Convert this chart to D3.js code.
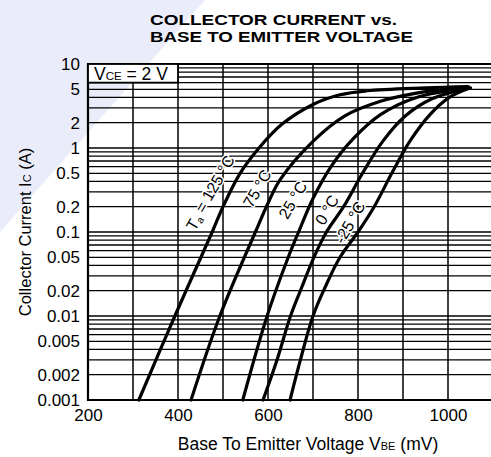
<!DOCTYPE html>
<html>
<head>
<meta charset="utf-8">
<script src="https://cdn.jsdelivr.net/npm/d3@7"></script>
<style>
  body { margin: 0; background: #fff; }
  text { font-family: "Liberation Sans", Arial, sans-serif; fill: #000; }
</style>
</head>
<body>
<div id="chart"></div>
<script>
// IC vs VBE, VCE = 2 V
const width = 491;
const height = 457;

// curves: [VBE in mV, IC in A]
const curve125 = [[313,0.001],[393,0.01],[476,0.1],[500,0.2],[538,0.5],[580,1],[630,1.9],[700,3.3],[760,4.3],[820,4.8],[950,5.2],[1045,5.4]];
const curve75  = [[429,0.001],[493,0.01],[572,0.1],[600,0.22],[627,0.42],[700,1.2],[770,2.4],[850,3.6],[930,4.5],[1045,5.3]];
const curve25  = [[544,0.001],[598,0.01],[645,0.05],[668,0.1],[700,0.25],[740,0.6],[790,1.3],[850,2.5],[930,4.0],[1045,5.2]];
const curve0   = [[589,0.001],[620,0.003],[650,0.01],[675,0.022],[702,0.05],[730,0.1],[768,0.2],[810,0.5],[855,1.2],[905,2.4],[962,3.8],[1045,5.2]];
const curveM25 = [[649,0.001],[672,0.003],[700,0.01],[727,0.022],[760,0.05],[800,0.1],[836,0.2],[875,0.5],[915,1.2],[960,2.5],[1003,4.0],[1050,5.2]];

const curves = [curve125, curve75, curve25, curve0, curveM25];
const tempNames = ["125", "75", "25", "0", "-25"];
// where each temperature label sits, [mV, A]
const labelAt = [[473,0.29],[576,0.33],[655,0.24],[731,0.183],[782,0.13]];

const xTicks = [200, 400, 600, 800, 1000];
const xGrid = [300, 400, 500, 600, 700, 800, 900, 1000];
const yTicks = [10, 5, 2, 1, 0.5, 0.2, 0.1, 0.05, 0.02, 0.01, 0.005, 0.002, 0.001];

const svg = d3.select("#chart")
              .append("svg")
              .attr("width", width)
              .attr("height", height);

// faint watermark in the corner
svg.append("path")
   .attr("d", "M0,0 L205,0 L0,232 Z")
   .attr("fill", "#eaedf9");

const x = d3.scaleLinear().domain([200, 1100]).range([88, 493]);
const y = d3.scaleLog().domain([0.001, 10]).range([400, 64]);

// grid
let yGrid = [];
for (let e = -3; e <= 0; e++) {
  for (let m = 1; m <= 9; m++) yGrid.push(m * Math.pow(10, e));
}
yGrid.push(10);

svg.append("g")
   .selectAll("line")
   .data(yGrid)
   .join("line")
   .attr("x1", x(200)).attr("x2", x(1100))
   .attr("y1", d => y(d)).attr("y2", d => y(d))
   .attr("stroke", "#000")
   .attr("stroke-width", 1.3);

svg.append("g")
   .selectAll("line")
   .data(xGrid)
   .join("line")
   .attr("x1", d => x(d)).attr("x2", d => x(d))
   .attr("y1", y(10)).attr("y2", y(0.001))
   .attr("stroke", "#000")
   .attr("stroke-width", 1.5);

// frame
svg.append("path")
   .attr("d", `M${x(1100)},${y(10)} H${x(200)} V${y(0.001)} H${x(1100)}`)
   .attr("fill", "none")
   .attr("stroke", "#000")
   .attr("stroke-width", 2.2);

// VCE box
const box = svg.append("g");
box.append("rect")
   .attr("x", x(200)).attr("y", y(10))
   .attr("width", x(400) - x(200)).attr("height", y(6) - y(10))
   .attr("fill", "#fff")
   .attr("stroke", "#000")
   .attr("stroke-width", 1.8);
const vce = box.append("text")
   .attr("x", x(200) + 6).attr("y", y(6) - 3)
   .attr("font-size", 17.5);
vce.append("tspan").text("V");
vce.append("tspan").attr("font-size", 11.5).text("CE");
vce.append("tspan").text(" = 2 V");

// curves
const line = d3.line()
               .x(d => x(d[0]))
               .y(d => y(d[1]))
               .curve(d3.curveCatmullRom.alpha(0.5));

svg.append("g")
   .selectAll("path")
   .data(curves)
   .join("path")
   .attr("d", line)
   .attr("fill", "none")
   .attr("stroke", "#000")
   .attr("stroke-width", 3.2)
   .attr("stroke-linecap", "round");

// temperature labels
const lab = svg.append("g")
   .selectAll("text")
   .data(tempNames)
   .join("text")
   .attr("transform", (d, i) => `translate(${x(labelAt[i][0])},${y(labelAt[i][1])}) rotate(-60)`)
   .attr("text-anchor", "middle")
   .attr("dy", "0.35em")
   .attr("font-size", 16)
   .attr("stroke", "#fff")
   .attr("stroke-width", 3)
   .attr("paint-order", "stroke");
lab.each(function(d, i) {
  const t = d3.select(this);
  if (i === 0) {
    t.append("tspan").text("T");
    t.append("tspan").attr("font-size", 10).attr("dy", "0.2em").text("a");
    t.append("tspan").attr("dy", "-0.2em").text(" = " + d + " \u00b0C");
  } else {
    t.text(d + " \u00b0C");
  }
});

// axes
const yAxis = svg.append("g")
   .attr("transform", `translate(${x(200)},0)`)
   .call(d3.axisLeft(y).tickValues(yTicks).tickFormat(d => String(d)).tickSize(0).tickPadding(8));
yAxis.select(".domain").remove();
yAxis.selectAll("text")
     .attr("font-size", 17)
     .attr("font-family", "Liberation Sans, Arial, sans-serif");

const xAxis = svg.append("g")
   .attr("transform", `translate(0,${y(0.001)})`)
   .call(d3.axisBottom(x).tickValues(xTicks).tickFormat(d => String(d)).tickSize(0).tickPadding(9));
xAxis.select(".domain").remove();
xAxis.selectAll("text")
     .attr("font-size", 17)
     .attr("font-family", "Liberation Sans, Arial, sans-serif");

// axis titles
const xt = svg.append("text")
   .attr("x", 308).attr("y", 450)
   .attr("text-anchor", "middle")
   .attr("font-size", 17.5);
xt.append("tspan").text("Base To Emitter Voltage  V");
xt.append("tspan").attr("font-size", 11).text("BE");
xt.append("tspan").text("  (mV)");

const yt = svg.append("text")
   .attr("transform", "translate(31,232) rotate(-90)")
   .attr("text-anchor", "middle")
   .attr("font-size", 16.5);
yt.append("tspan").text("Collector Current  I");
yt.append("tspan").attr("font-size", 11).text("C");
yt.append("tspan").text("  (A)");

// title
svg.append("text")
   .attr("x", 150).attr("y", 25)
   .attr("font-size", 15.5).attr("font-weight", "bold")
   .attr("textLength", 247).attr("lengthAdjust", "spacingAndGlyphs")
   .text("COLLECTOR CURRENT vs.");
svg.append("text")
   .attr("x", 150).attr("y", 42)
   .attr("font-size", 15.5).attr("font-weight", "bold")
   .attr("textLength", 263).attr("lengthAdjust", "spacingAndGlyphs")
   .text("BASE TO EMITTER VOLTAGE");
</script>
</body>
</html>
